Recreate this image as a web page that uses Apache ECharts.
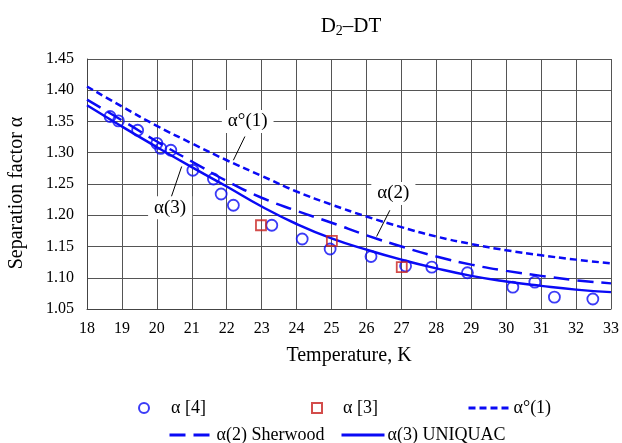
<!DOCTYPE html>
<html>
<head>
<meta charset="utf-8">
<script src="https://cdn.jsdelivr.net/npm/echarts@6/dist/echarts.min.js"></script>
<style>
  html, body { margin: 0; padding: 0; background: #fff; }
  #chart { width: 622px; height: 443px; }
</style>
</head>
<body>
<div id="chart"></div>
<script>
// experimental points, ref [4]
const exp4T = [18.66, 18.90, 19.45, 20.00, 20.11, 20.40, 21.03, 21.62, 21.84, 22.19, 23.29, 24.16, 24.96, 26.13, 27.12, 27.87, 28.89, 30.19, 30.82, 31.38, 32.48]
const exp4A = [1.358, 1.351, 1.336, 1.315, 1.307, 1.304, 1.272, 1.258, 1.234, 1.216, 1.184, 1.162, 1.146, 1.134, 1.119, 1.117, 1.108, 1.085, 1.093, 1.069, 1.066]
// experimental points, ref [3]
const exp3T = [22.98, 25.01, 27.01]
const exp3A = [1.184, 1.159, 1.117]

// calculated curves
const curveT = [18, 19, 20, 21, 22, 23, 24, 25, 26, 27, 28, 29, 30, 31, 32, 33]
const idealA = [1.406, 1.374, 1.343, 1.315, 1.288, 1.263, 1.238, 1.217, 1.198, 1.181, 1.166, 1.154, 1.144, 1.136, 1.129, 1.123]
const sherwoodA = [1.385, 1.352, 1.318, 1.286, 1.255, 1.228, 1.207, 1.188, 1.168, 1.150, 1.134, 1.121, 1.111, 1.103, 1.096, 1.091]
const uniquacA = [1.376, 1.342, 1.309, 1.277, 1.246, 1.214, 1.186, 1.163, 1.145, 1.129, 1.115, 1.103, 1.094, 1.087, 1.081, 1.077]

// curve callouts (data coords)
const calloutText = ['α°(1)', 'α(2)', 'α(3)']
const calloutAt = [[22.6, 1.350], [26.77, 1.235], [20.38, 1.212]]
const calloutFrom = [[22.52, 1.326], [26.67, 1.208], [20.38, 1.224]]
const calloutTo = [[22.19, 1.288], [26.29, 1.166], [20.71, 1.278]]

const FONT = '"Liberation Serif", "Times New Roman", serif'
const BLUE = '#0a0af5'
const RED = '#c8201e'

const zip = (xs, ys) => xs.map((x, i) => [x, ys[i]])

const chart = echarts.init(document.getElementById('chart'))

const legendBase = {
  orient: 'horizontal',
  padding: 0,
  textStyle: { fontFamily: FONT, fontSize: 18, color: '#000' }
}

const option = {
  backgroundColor: '#fff',
  animation: false,
  title: {
    text: 'D{sub|2}–DT',
    left: 346,
    top: 10,
    textAlign: 'center',
    textStyle: {
      fontFamily: FONT, fontSize: 21, fontWeight: 'normal', color: '#000',
      rich: { sub: { fontFamily: FONT, fontSize: 14, verticalAlign: 'bottom', padding: [9, 0, 0, 0] } }
    }
  },
  grid: { left: 87, right: 11, top: 59, bottom: 134, outerBoundsMode: 'none' },
  xAxis: {
    type: 'value',
    min: 18,
    max: 33,
    interval: 1,
    name: 'Temperature, K',
    nameLocation: 'middle',
    nameGap: 37,
    nameTextStyle: { fontFamily: FONT, fontSize: 20, color: '#000' },
    axisLine: { show: true, onZero: false, lineStyle: { color: '#444', width: 1 } },
    axisTick: { show: false },
    axisLabel: { fontFamily: FONT, fontSize: 16, color: '#000', margin: 12 },
    splitLine: { show: true, lineStyle: { color: '#555', width: 1 } }
  },
  yAxis: {
    type: 'value',
    min: 1.05,
    max: 1.45,
    interval: 0.05,
    name: 'Separation factor α',
    nameLocation: 'middle',
    nameGap: 60,
    nameTextStyle: { fontFamily: FONT, fontSize: 20, color: '#000', padding: [0, 0, 0, -18] },
    axisLine: { show: true, lineStyle: { color: '#444', width: 1 } },
    axisTick: { show: false },
    axisLabel: { fontFamily: FONT, fontSize: 16, color: '#000', margin: 13, formatter: v => v.toFixed(2) },
    splitLine: { show: true, lineStyle: { color: '#555', width: 1 } }
  },
  legend: [
    { ...legendBase, left: 138, top: 399, itemWidth: 10, itemHeight: 10, data: ['α [4]'],
      textStyle: { ...legendBase.textStyle, padding: [0, 0, 0, 17] } },
    { ...legendBase, left: 311, top: 399, itemWidth: 10, itemHeight: 10, data: ['α [3]'],
      textStyle: { ...legendBase.textStyle, padding: [0, 0, 0, 16] } },
    { ...legendBase, left: 467, top: 399, itemWidth: 40, itemHeight: 11, data: ['α°(1)'],
      itemStyle: { opacity: 0 }, lineStyle: { width: 3 } },
    { ...legendBase, left: 168, top: 426, itemWidth: 44, itemHeight: 11, data: ['α(2) Sherwood'],
      itemStyle: { opacity: 0 }, lineStyle: { width: 3 },
      textStyle: { ...legendBase.textStyle, padding: [0, 0, 0, -2] } },
    { ...legendBase, left: 340, top: 426, itemWidth: 43, itemHeight: 11, data: ['α(3) UNIQUAC'],
      itemStyle: { opacity: 0 }, lineStyle: { width: 3 },
      textStyle: { ...legendBase.textStyle, padding: [0, 0, 0, -2] } }
  ],
  series: [
    {
      name: 'α°(1)',
      type: 'line',
      smooth: true,
      symbol: 'none',
      data: zip(curveT, idealA),
      lineStyle: { color: BLUE, width: 2.5, type: [7, 4] },
      itemStyle: { color: BLUE },
      z: 2
    },
    {
      name: 'α(2) Sherwood',
      type: 'line',
      smooth: true,
      symbol: 'none',
      data: zip(curveT, sherwoodA),
      lineStyle: { color: BLUE, width: 2.5, type: [16, 8] },
      itemStyle: { color: BLUE },
      z: 2
    },
    {
      name: 'α(3) UNIQUAC',
      type: 'line',
      smooth: true,
      symbol: 'none',
      data: zip(curveT, uniquacA),
      lineStyle: { color: BLUE, width: 2.5 },
      itemStyle: { color: BLUE },
      z: 2
    },
    {
      name: 'α [4]',
      type: 'scatter',
      symbol: 'circle',
      symbolSize: 11,
      data: zip(exp4T, exp4A),
      itemStyle: { color: 'rgba(255,255,255,0)', borderColor: BLUE, borderWidth: 1.8 },
      z: 3
    },
    {
      name: 'α [3]',
      type: 'scatter',
      symbol: 'rect',
      symbolSize: 10,
      data: zip(exp3T, exp3A),
      itemStyle: { color: 'rgba(255,255,255,0)', borderColor: RED, borderWidth: 1.8 },
      z: 4
    }
  ]
}

chart.setOption(option)

// callout labels with pointer lines, placed through the grid's scales
const toPx = p => chart.convertToPixel({ gridIndex: 0 }, p)
const elements = []
calloutText.forEach((txt, i) => {
  const a = toPx(calloutFrom[i])
  const b = toPx(calloutTo[i])
  const c = toPx(calloutAt[i])
  elements.push({
    type: 'line',
    shape: { x1: a[0], y1: a[1], x2: b[0], y2: b[1] },
    style: { stroke: '#000', lineWidth: 1 },
    z: 10
  })
  elements.push({
    type: 'text',
    x: c[0],
    y: c[1],
    style: {
      text: txt,
      font: '19px ' + FONT,
      fill: '#000',
      align: 'center',
      verticalAlign: 'middle',
      backgroundColor: '#fff',
      padding: [2, 6]
    },
    z: 11
  })
})
chart.setOption({ graphic: elements })

window.addEventListener('resize', () => chart.resize())
</script>
</body>
</html>
